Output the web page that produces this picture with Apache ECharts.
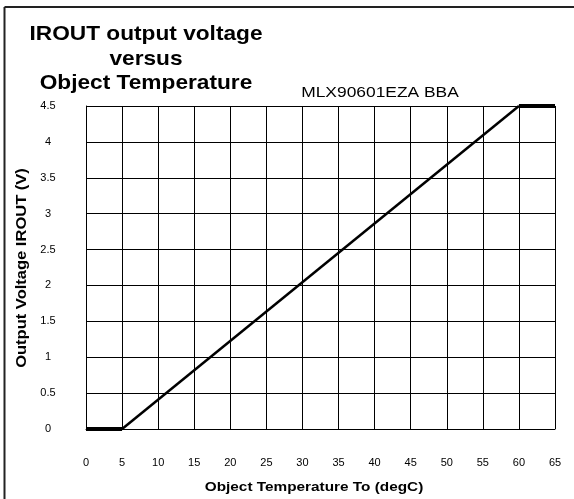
<!DOCTYPE html>
<html>
<head>
<meta charset="utf-8">
<script src="https://cdn.jsdelivr.net/npm/echarts@6/dist/echarts.min.js"></script>
<style>
html,body{margin:0;padding:0;background:#fff;}
#c{width:574px;height:499px;}
</style>
</head>
<body>
<div id="c"></div>
<script>
const xTicks = [0,5,10,15,20,25,30,35,40,45,50,55,60,65];
const yTicks = [0,0.5,1,1.5,2,2.5,3,3.5,4,4.5];
const lowFlatX = [0,5];
const lowFlatY = [0,0];
const rampX = [5,60];
const rampY = [0,4.5];
const highFlatX = [60,65];
const highFlatY = [4.5,4.5];

const pairs = (xs, ys) => xs.map((x,i)=>[x, ys[i]]);
const chart = echarts.init(document.getElementById('c'), null, {renderer:'canvas'});
const font = 'Liberation Sans, Arial, sans-serif';
chart.setOption({
  animation:false,
  backgroundColor:'#fff',
  graphic:[
    {type:'line', shape:{x1:4.5,y1:7,x2:574,y2:7}, style:{stroke:'#222',lineWidth:2}},
    {type:'line', shape:{x1:4.5,y1:7,x2:4.5,y2:499}, style:{stroke:'#222',lineWidth:2}},
    {type:'text', x:146, y:22, scaleX:1.08, style:{text:'IROUT output voltage\nversus\nObject Temperature', font:'bold 21px '+font, fill:'#000', textAlign:'center', lineHeight:24.5}},
    {type:'text', x:380, y:93, scaleX:1.16, style:{text:'MLX90601EZA BBA', font:'15px '+font, fill:'#000', textAlign:'center', textVerticalAlign:'middle'}},
    {type:'text', x:314, y:487, scaleX:1.18, style:{text:'Object Temperature To (degC)', font:'bold 13px '+font, fill:'#000', textAlign:'center', textVerticalAlign:'middle'}},
    {type:'text', x:22, y:268, rotation:Math.PI/2, scaleX:1.18, style:{text:'Output Voltage IROUT (V)', font:'bold 14px '+font, fill:'#000', textAlign:'center', textVerticalAlign:'middle'}}
  ],
  grid:{left:86, top:106, right:19, bottom:70, show:false},
  xAxis:{
    type:'value', min:0, max:65, interval:5,
    axisLine:{show:true, lineStyle:{color:'#000', width:1}},
    axisTick:{show:false},
    axisLabel:{margin:28, fontFamily:font, fontSize:11, color:'#000'},
    splitLine:{show:true, lineStyle:{color:'#000', width:1}}
  },
  yAxis:{
    type:'value', min:0, max:4.5, interval:0.5,
    axisLine:{show:true, lineStyle:{color:'#000', width:1}},
    axisTick:{show:false},
    axisLabel:{margin:38, align:'center', fontFamily:font, fontSize:11, color:'#000'},
    splitLine:{show:true, lineStyle:{color:'#000', width:1}}
  },
  series:[
    {type:'line', data:pairs(rampX, rampY), symbol:'none', lineStyle:{color:'#000', width:2.5}},
    {type:'line', data:pairs(lowFlatX, lowFlatY), symbol:'none', lineStyle:{color:'#000', width:4}},
    {type:'line', data:pairs(highFlatX, highFlatY), symbol:'none', lineStyle:{color:'#000', width:4}}
  ]
});
</script>
</body>
</html>
